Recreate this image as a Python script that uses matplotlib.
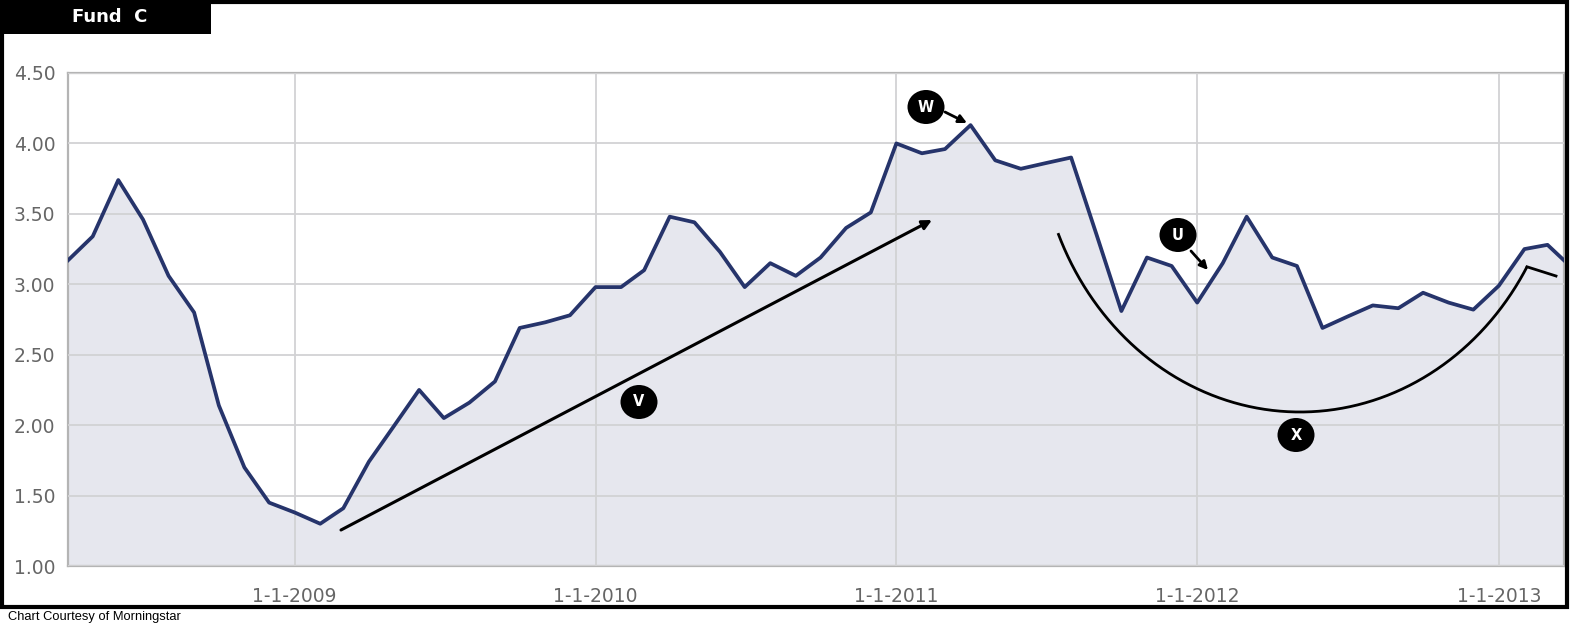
import numpy as np
import pandas as pd
import matplotlib
matplotlib.use("Agg")
import matplotlib.pyplot as plt
import matplotlib.dates as mdates
from matplotlib.patches import Rectangle, Ellipse

# ---- data ----
dates = list(pd.date_range("2008-04-01", "2013-03-01", freq="MS")) + [pd.Timestamp("2013-03-21")]
values = [3.17, 3.34, 3.74, 3.46, 3.06, 2.80, 2.14, 1.70, 1.45, 1.38,
          1.30, 1.41, 1.74, 1.99, 2.25, 2.05, 2.16, 2.31, 2.69, 2.73,
          2.78, 2.98, 2.98, 3.10, 3.48, 3.44, 3.23, 2.98, 3.15, 3.06,
          3.19, 3.40, 3.51, 4.00, 3.93, 3.96, 4.13, 3.88, 3.82, 3.86,
          3.90, 3.35, 2.81, 3.19, 3.13, 2.87, 3.15, 3.48, 3.19, 3.13,
          2.69, 2.77, 2.85, 2.83, 2.94, 2.87, 2.82, 2.99, 3.25, 3.28,
          3.17]
y_ticks = [1.00, 1.50, 2.00, 2.50, 3.00, 3.50, 4.00, 4.50]
x_ticks = ["2009-01-01", "2010-01-01", "2011-01-01", "2012-01-01", "2013-01-01"]
x_tick_labels = ["1-1-2009", "1-1-2010", "1-1-2011", "1-1-2012", "1-1-2013"]
title = "Fund  C"
credit = "Chart Courtesy of Morningstar"

W, H = 1575, 631
fig = plt.figure(figsize=(W / 100, H / 100), dpi=100)
fig.patch.set_facecolor("white")

L, R, T, B = 68, 1564, 73, 566
ax = fig.add_axes([L / W, 1 - B / H, (R - L) / W, (B - T) / H])
ax.set_facecolor("white")

x = mdates.date2num(dates)
ax.fill_between(x, values, 1.0, color="#e6e7ee", zorder=1, linewidth=0)
ax.plot(x, values, color="#26346b", lw=2.7, zorder=3, solid_joinstyle="round")

ax.set_xlim(x[0], x[-1])
ax.set_ylim(1.0, 4.5)
ax.set_yticks(y_ticks)
ax.set_yticklabels([f"{v:.2f}" for v in y_ticks])
xt = mdates.date2num(pd.to_datetime(x_ticks))
ax.set_xticks(xt)
ax.set_xticklabels(x_tick_labels)
ax.tick_params(axis="both", length=0, labelsize=13.5, colors="#666666")
ax.tick_params(axis="y", pad=9)
ax.tick_params(axis="x", pad=15)
ax.grid(True, color="#d2d2d4", lw=1.3, zorder=2)
ax.set_axisbelow(False)
for s in ax.spines.values():
    s.set_color("#b4b4b4")
    s.set_linewidth(1.6)
    s.set_zorder(2.5)

# ---- annotations (axes fraction from pixel positions) ----
def fx(px):
    return (px - L) / (R - L)

def fy(py):
    return (B - py) / (B - T)

tA = ax.transAxes

def badge(px, py, letter):
    e = Ellipse((fx(px), fy(py)), 37 / (R - L), 34 / (B - T), transform=tA,
                facecolor="black", edgecolor="none", zorder=6, clip_on=False)
    ax.add_patch(e)
    ax.text(fx(px), fy(py), letter, transform=tA, color="white", fontsize=10.5,
            fontweight="bold", ha="center", va="center", zorder=7)

badge(926, 107, "W")
badge(1178, 235, "U")
badge(639, 402, "V")
badge(1296, 435, "X")

arrow_kw = dict(arrowstyle="-|>", color="black", lw=2.2, mutation_scale=14)
ax.annotate("", xy=(fx(932), fy(220)), xytext=(fx(341), fy(530)),
            xycoords=tA, textcoords=tA, arrowprops=dict(arrow_kw, shrinkA=0, shrinkB=0), zorder=5)
ax.annotate("", xy=(fx(967), fy(123)), xytext=(fx(945), fy(112)),
            xycoords=tA, textcoords=tA,
            arrowprops=dict(arrowstyle="-|>", color="black", lw=2.0, mutation_scale=12,
                            shrinkA=0, shrinkB=0), zorder=5)
ax.annotate("", xy=(fx(1208), fy(270)), xytext=(fx(1191), fy(251)),
            xycoords=tA, textcoords=tA,
            arrowprops=dict(arrowstyle="-|>", color="black", lw=2.0, mutation_scale=12,
                            shrinkA=0, shrinkB=0), zorder=5)

# big arc (elliptical) with hook
cx, cy, a, b = 1300, 122, 262, 290
t = np.linspace(np.pi + np.arccos(242 / a), 2 * np.pi - np.arccos(227 / a), 300)
apx = cx + a * np.cos(t)
apy = cy - b * np.sin(t)
ax.plot(fx(apx), fy(apy), transform=tA, color="black", lw=2.0, zorder=5,
        solid_capstyle="butt")
ax.plot([fx(apx[-1]), fx(1556)], [fy(apy[-1]), fy(276)], transform=tA,
        color="black", lw=2.0, zorder=5)

# ---- frame, title box, credit ----
fig.add_artist(Rectangle((2 / W, 1 - 606.5 / H), (1566.5 - 2) / W, (606.5 - 2) / H,
                         transform=fig.transFigure, fill=False, edgecolor="black", lw=3.0))
fig.add_artist(Rectangle((0, 1 - 34 / H), 211 / W, 34 / H, transform=fig.transFigure,
                         facecolor="black", edgecolor="none"))
fig.text(72 / W, 1 - 17 / H, title, color="white", fontsize=13, fontweight="bold",
         ha="left", va="center")
fig.text(8 / W, 1 - 617 / H, credit, color="black", fontsize=9.3,
         family=["Liberation Sans", "DejaVu Sans"], ha="left", va="center")

fig.savefig("out.png", dpi=100, facecolor="white")
